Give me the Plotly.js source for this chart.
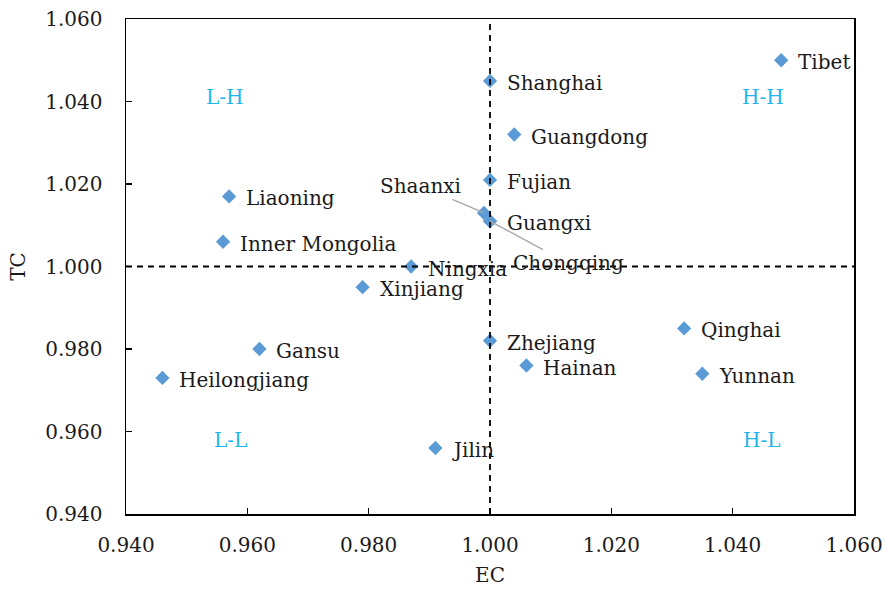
<!DOCTYPE html>
<html>
<head>
<meta charset="utf-8">
<script src="https://cdn.plot.ly/plotly-3.0.1.min.js"></script>
<style>html,body{margin:0;padding:0;background:#fff;}#chart{width:885px;height:599px;}</style>
</head>
<body>
<div id="chart"></div>
<script>
// Data
const provinces = ["Tibet","Shanghai","Guangdong","Fujian","Shaanxi","Guangxi","Chongqing","Liaoning","Inner Mongolia","Ningxia","Xinjiang","Gansu","Heilongjiang","Jilin","Zhejiang","Hainan","Qinghai","Yunnan"];
const EC = [1.048,1.000,1.004,1.000,0.999,1.000,1.000,0.957,0.956,0.987,0.979,0.962,0.946,0.991,1.000,1.006,1.032,1.035];
const TC = [1.050,1.045,1.032,1.021,1.013,1.011,1.011,1.017,1.006,1.000,0.995,0.980,0.973,0.956,0.982,0.976,0.985,0.974];
const tickVals = [0.940,0.960,0.980,1.000,1.020,1.040,1.060];
const tickText = ["0.940","0.960","0.980","1.000","1.020","1.040","1.060"];
const quadrantNames = ["L-H","H-H","L-L","H-L"];
const quadrantEC = [0.9563,1.0450,0.9572,1.0448];
const quadrantTC = [1.0411,1.0411,0.9580,0.9580];

const FONT = "DejaVu Serif, Liberation Serif, serif";

// label placements (pixel offsets), leader-line labels handled separately
const leader = {
  "Shaanxi": {ax: -63, ay: -27},
  "Chongqing": {ax: 78, ay: 42}
};

const annotations = [];
provinces.forEach((p, i) => {
  if (leader[p]) {
    annotations.push({
      x: EC[i], y: TC[i], xref: 'x', yref: 'y', text: p,
      showarrow: true, arrowhead: 0, arrowwidth: 1.3, arrowcolor: '#a6a6a6',
      ax: leader[p].ax, ay: leader[p].ay, standoff: 0,
      font: {family: FONT, size: 20, color: '#1a1a1a'}
    });
  } else {
    annotations.push({
      x: EC[i], y: TC[i], xref: 'x', yref: 'y', text: p,
      showarrow: false, xanchor: 'left', yanchor: 'middle',
      xshift: 15, yshift: -2,
      font: {family: FONT, size: 20, color: '#1a1a1a'}
    });
  }
});
quadrantNames.forEach((q, i) => {
  annotations.push({
    x: quadrantEC[i], y: quadrantTC[i], xref: 'x', yref: 'y', text: q,
    showarrow: false, xanchor: 'center', yanchor: 'middle',
    font: {family: FONT, size: 20, color: '#1FB4EE'}
  });
});

const trace = {
  x: EC, y: TC, text: provinces, type: 'scatter', mode: 'markers',
  marker: {symbol: 'diamond', size: 11, color: '#5B9BD5'},
  hoverinfo: 'text', cliponaxis: false
};

const axisCommon = {
  range: [0.94, 1.06], tickvals: tickVals, ticktext: tickText,
  showgrid: false, zeroline: false, showline: true, mirror: true,
  linecolor: '#000', linewidth: 1.5, ticks: 'inside', ticklen: 6,
  tickcolor: '#000', tickwidth: 1.2,
  tickfont: {family: FONT, size: 20, color: '#1a1a1a'}
};

const layout = {
  width: 885, height: 599,
  margin: {l: 126, r: 31, t: 19, b: 85},
  paper_bgcolor: '#fff', plot_bgcolor: '#fff',
  showlegend: false,
  xaxis: Object.assign({}, axisCommon, {
    ticklabelstandoff: 12,
    title: {text: 'EC', font: {family: FONT, size: 20, color: '#1a1a1a'}, standoff: 12}
  }),
  yaxis: Object.assign({}, axisCommon, {
    ticklabelstandoff: 18,
    title: {text: 'TC', font: {family: FONT, size: 20, color: '#1a1a1a'}, standoff: 14}
  }),
  shapes: [
    {type: 'line', xref: 'x', yref: 'paper', x0: 1.0, x1: 1.0, y0: 0, y1: 1,
     line: {color: '#000', width: 1.8, dash: '6px,5px'}, layer: 'above'},
    {type: 'line', xref: 'paper', yref: 'y', x0: 0, x1: 1, y0: 1.0, y1: 1.0,
     line: {color: '#000', width: 1.8, dash: '6px,5px'}, layer: 'above'}
  ],
  annotations: annotations
};

Plotly.newPlot('chart', [trace], layout, {displayModeBar: false, staticPlot: true});
</script>
</body>
</html>
